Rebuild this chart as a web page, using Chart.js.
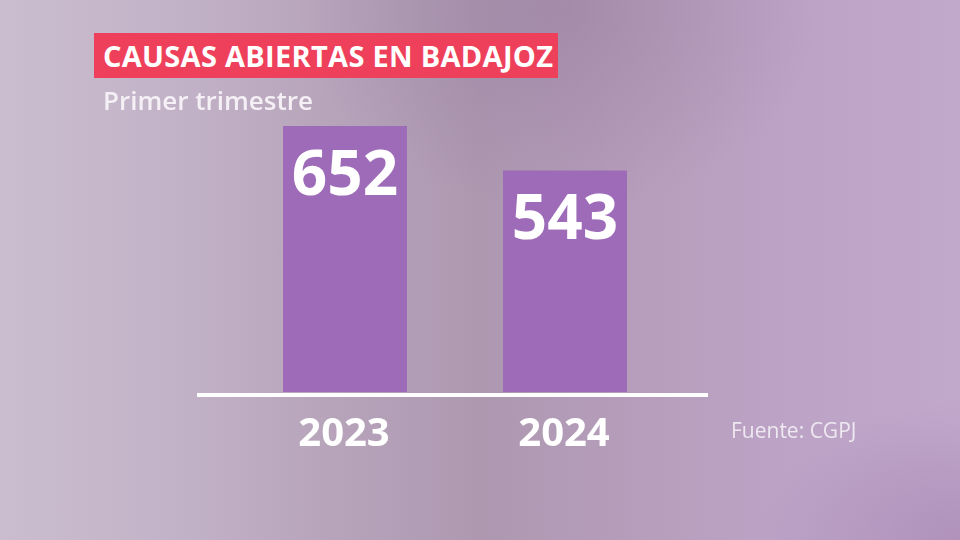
<!DOCTYPE html>
<html>
<head>
<meta charset="utf-8">
<script src="https://cdn.jsdelivr.net/npm/chart.js@4.4.1/dist/chart.umd.min.js"></script>
<style>
  html, body { margin: 0; padding: 0; }
  body {
    width: 960px; height: 540px; overflow: hidden; position: relative;
    font-family: "Open Sans", "Noto Sans", sans-serif;
    background:
      radial-gradient(ellipse 260px 200px at 560px 10px, rgba(140,115,150,0.4), rgba(140,115,150,0) 100%),
      radial-gradient(ellipse 200px 140px at 960px 540px, rgba(150,110,160,0.4), rgba(150,110,160,0) 100%),
      linear-gradient(90deg, #cbbdd0 0px, #c2b2c7 180px, #b7a4bb 330px, #ad98b0 480px, #b59dba 620px, #bca3c6 780px, #c1a9cc 960px);
  }
  #wrap { position: absolute; left: 0; top: 0; width: 960px; height: 540px; }
  #title {
    position: absolute; left: 94px; top: 33px; width: 464px; height: 45px;
    background: #ee405a; color: #fff; font-weight: 700; font-size: 29px;
    line-height: 45px; box-sizing: border-box; padding-left: 9px; white-space: nowrap;
    letter-spacing: 0.3px;
  }
  #subtitle {
    position: absolute; left: 103px; top: 82px; color: #f4f0f5; font-size: 26px;
    font-weight: 600; line-height: 36px; white-space: nowrap;
  }
  #source {
    position: absolute; left: 731px; top: 416px; color: #eee8f0; font-size: 21px;
    line-height: 28px; white-space: nowrap;
  }
</style>
</head>
<body>
<div id="wrap"><canvas id="c" width="960" height="540"></canvas></div>
<div id="title">CAUSAS ABIERTAS EN BADAJOZ</div>
<div id="subtitle">Primer trimestre</div>
<div id="source">Fuente: CGPJ</div>
<script>
const categories = ["2023", "2024"];
const values = [652, 543];
const yMax = 700;

const barColor = "#9e6bb8";

const overlayPlugin = {
  id: "overlay",
  afterDatasetsDraw(chart) {
    const ctx = chart.ctx;
    const area = chart.chartArea;
    const y0 = chart.scales.y.getPixelForValue(0);
    ctx.save();
    // baseline
    ctx.fillStyle = "#ffffff";
    ctx.fillRect(area.left - 38, y0 + 1, area.right - area.left + 71, 4);
    const meta = chart.getDatasetMeta(0);
    meta.data.forEach((bar, i) => {
      ctx.fillStyle = "#ffffff";
      ctx.textAlign = "center";
      ctx.textBaseline = "alphabetic";
      ctx.font = "700 62px 'Open Sans', 'Noto Sans', sans-serif";
      ctx.fillText(String(values[i]), bar.x, bar.y + 69);
      ctx.font = "700 40px 'Open Sans', 'Noto Sans', sans-serif";
      ctx.fillText(categories[i], bar.x - 1, 446);
    });
    ctx.restore();
  }
};

new Chart(document.getElementById("c"), {
  type: "bar",
  data: {
    labels: categories,
    datasets: [{
      data: values,
      backgroundColor: barColor,
      borderWidth: 0,
      barPercentage: 1,
      categoryPercentage: 124 / 220
    }]
  },
  options: {
    responsive: false,
    animation: false,
    events: [],
    layout: { padding: { left: 235, right: 285, top: 392 - yMax * 266 / 652, bottom: 148 } },
    plugins: { legend: { display: false }, tooltip: { enabled: false } },
    scales: {
      x: { display: false },
      y: { display: false, min: 0, max: yMax }
    }
  },
  plugins: [overlayPlugin]
});
</script>
</body>
</html>
